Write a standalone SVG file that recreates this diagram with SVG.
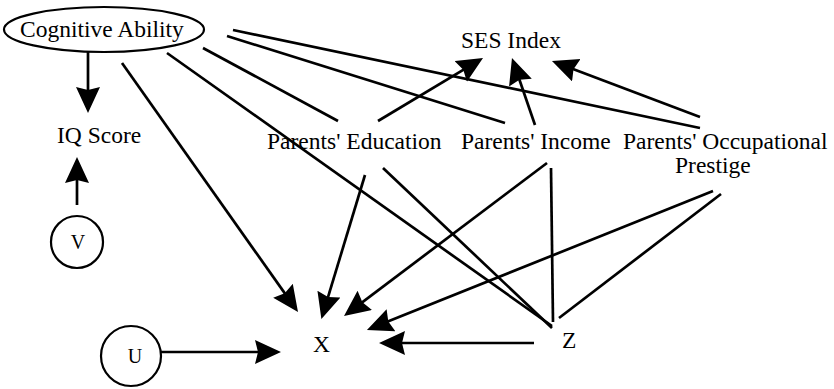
<svg xmlns="http://www.w3.org/2000/svg" width="834" height="389" viewBox="0 0 834 389">
<defs>
<marker id="ah" markerUnits="userSpaceOnUse" markerWidth="28" markerHeight="26" viewBox="0 0 28 26" refX="17" refY="12" orient="auto">
<path d="M0,0 L26,12 L0,24 L3,12 z" fill="#000"/>
</marker>
<style>
.t{font-family:"Liberation Serif","Times New Roman",serif;font-size:23.5px;fill:#000}
.s{font-family:"Liberation Serif","Times New Roman",serif;font-size:20px;fill:#000;text-anchor:middle}
.ln{stroke:#000;stroke-width:2.7;fill:none}
.ar{stroke:#000;stroke-width:2.7;fill:none;marker-end:url(#ah)}
.c{stroke:#000;stroke-width:2.2;fill:#fff}
</style>
</defs>
<rect width="834" height="389" fill="#fff"/>
<g id="connectors">
<line class="ln" x1="203" y1="48" x2="338" y2="121"/>
<line class="ln" x1="227" y1="36" x2="505" y2="123"/>
<line class="ln" x1="233" y1="30" x2="700" y2="128"/>
<line class="ln" x1="167" y1="53" x2="552" y2="326"/>
<line class="ln" x1="383" y1="168" x2="552" y2="328"/>
<line class="ln" x1="551" y1="168" x2="553" y2="322"/>
<line class="ln" x1="721" y1="194" x2="559" y2="318"/>
<line class="ar" x1="88" y1="52" x2="88" y2="104"/>
<line class="ar" x1="77" y1="205" x2="77" y2="166"/>
<line class="ar" x1="161" y1="352" x2="272" y2="352"/>
<line class="ar" x1="122" y1="63" x2="292.8" y2="304.6"/>
<line class="ar" x1="365" y1="175" x2="324" y2="310.4"/>
<line class="ar" x1="547" y1="163" x2="351.2" y2="310.6"/>
<line class="ar" x1="713" y1="191" x2="375.3" y2="326.6"/>
<line class="ar" x1="534" y1="343" x2="388" y2="343"/>
<line class="ar" x1="378" y1="121" x2="475.3" y2="62.6"/>
<line class="ar" x1="535" y1="125" x2="514.9" y2="66.5"/>
<line class="ar" x1="700" y1="117" x2="560.4" y2="64.2"/>
</g>
<g id="cognitive-ability">
<ellipse class="c" cx="104" cy="29.5" rx="100" ry="22.5" fill="none"/>
<text class="t" x="20" y="37">Cognitive Ability</text>
</g>
<g id="iq-score"><text class="t" x="57" y="143">IQ Score</text></g>
<g id="v"><circle class="c" cx="77" cy="242" r="26"/><text class="s" x="78" y="249">V</text></g>
<g id="u"><circle class="c" cx="131" cy="356" r="30"/><text class="s" x="135" y="363">U</text></g>
<g id="ses-index"><text class="t" x="461" y="48">SES Index</text></g>
<g id="parents-education"><text class="t" x="267" y="149">Parents' Education</text></g>
<g id="parents-income"><text class="t" x="461" y="149">Parents' Income</text></g>
<g id="parents-occupational-prestige"><text class="t" x="623" y="149">Parents' Occupational</text><text class="t" x="675" y="173">Prestige</text></g>
<g id="x"><text class="t" x="313" y="352">X</text></g>
<g id="z"><text class="t" x="562" y="348">Z</text></g>
</svg>
